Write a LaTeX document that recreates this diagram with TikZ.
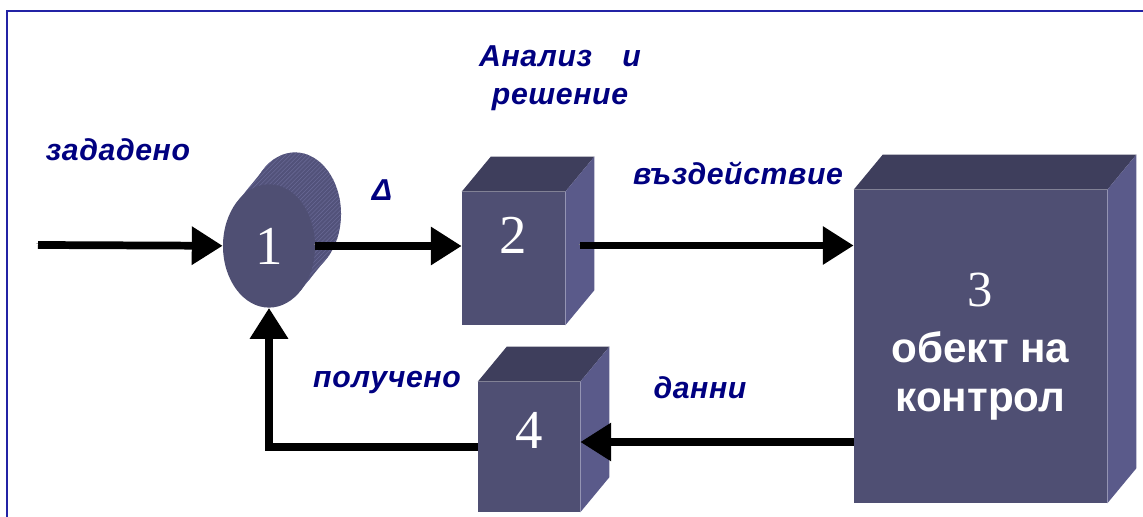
\documentclass[tikz,border=0pt]{standalone}
\usepackage{fontspec}
\setmainfont{Liberation Serif}
\setsansfont{Liberation Sans}
\newfontfamily\lblfont[LetterSpace=2]{Liberation Sans}
\usetikzlibrary{arrows.meta,positioning,shapes.geometric,patterns}

\definecolor{boxfront}{RGB}{79,79,115}
\definecolor{boxtop}{RGB}{62,62,92}
\definecolor{boxside}{RGB}{90,90,138}
\definecolor{bandcol}{RGB}{82,82,122}
\definecolor{hatchcol}{RGB}{104,104,148}
\definecolor{lblblue}{RGB}{0,0,128}
\definecolor{framecol}{RGB}{35,35,165}

\tikzset{
  lbl/.style={text=lblblue, align=center,
    font=\lblfont\bfseries\itshape\fontsize{21.5}{27}\selectfont},
  cube/.style={rectangle, fill=boxfront, text=white, inner sep=0pt,
    font=\rmfamily\fontsize{39}{40}\selectfont},
  band/.style={preaction={fill=bandcol}, pattern=north east lines,
    pattern color=hatchcol},
  flow/.style={line width=5.5pt, -{Triangle[length=22pt,width=26pt]},
    preaction={draw=gray, transform canvas={shift={(-1.2pt,1.2pt)}}}}
}

\begin{document}
\begin{tikzpicture}[x=0.025cm, y=0.025cm]
  \useasboundingbox (0,0) rectangle (1143,-517);
  \draw[framecol, line width=1.2pt] (7,-517) |- (1143,-11);

  % cylinder 1
  \coordinate (o1) at (269,-246);
  \fill[band] (o1) ++(26,32) ellipse [x radius=1.15cm, y radius=1.54cm];
  \fill[band] (o1) ++(31,-45) -- ++(26,32) -- ++(-62,90) -- ++(-26,-32) -- cycle;
  \node[ellipse, fill=boxfront, text=white, inner sep=0pt,
    minimum width=2.3cm, minimum height=3.08cm,
    font=\rmfamily\fontsize{39}{40}\selectfont] (c1) at (o1) {1};

  % blocks
  \node[cube, minimum width=2.575cm, minimum height=3.325cm,
    text height=0.93cm, text depth=1.2cm] (b2) at (513.5,-258.5) {2};
  \node[cube, minimum width=6.325cm, minimum height=7.825cm, align=center,
    font=\sffamily\bfseries\fontsize{30}{35}\selectfont] (b3) at (980.5,-346.5)
    {{\rmfamily\mdseries\fontsize{36}{36}\selectfont 3}\\[5pt]обект на\\контрол};
  \node[cube, minimum width=2.55cm, minimum height=3.25cm,
    text height=0.93cm, text depth=0.85cm] (b4) at (529,-447) {4};
  \foreach \b in {b2,b3,b4} {
    \fill[boxtop] (\b.north west) -- ++(29,35) -- ([shift={(29,35)}]\b.north east)
      -- (\b.north east) -- cycle;
    \fill[boxside] (\b.north east) -- ++(29,35) -- ([shift={(29,35)}]\b.south east)
      -- (\b.south east) -- cycle;
  }

  % labels
  \node[lbl] (zad) at (118,-150) {зададено};
  \node[lbl] (an) at (560,-78) {Анализ\quad и\\решение};
  \node[lbl] (dl) at (382,-190) {Δ};
  \node[lbl] (vz) at (738,-173) {въздействие};
  \node[lbl] (pol) at (387,-383) {получено};
  \node[lbl] (dan) at (700,-388) {данни};

  % connectors
  \coordinate (in) at (38,-245);
  \coordinate (a2) at ([shift={(15,13)}]b2.east);
  \coordinate (a3) at ([shift={(0,5)}]b4.east);
  \draw[flow] (in) -- (c1);
  \draw[flow] (c1.east) -- (c1.east -| b2.west);
  \draw[flow] (a2) -- (a2 -| b3.west);
  \draw[flow] (a3 -| b3.west) -- (a3);
  \draw[flow] (b4.west) -| (c1.south);
\end{tikzpicture}
\end{document}
